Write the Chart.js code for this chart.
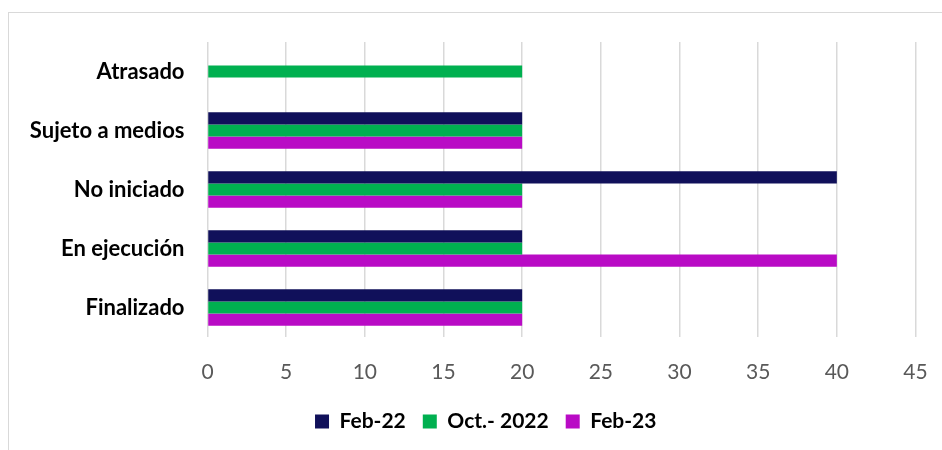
<!DOCTYPE html>
<html>
<head>
<meta charset="utf-8">
<script src="https://cdn.jsdelivr.net/npm/chart.js@4/dist/chart.umd.min.js"></script>
<style>
  body { margin: 0; background: #fff; }
  #wrap { position: relative; width: 942px; height: 450px; overflow: hidden; }
  #frame { position: absolute; left: 8px; top: 12px; width: 1000px; height: 500px; border: 1px solid #d9d9d9; }
  #canvas { position: absolute; left: 0; top: 0; }
</style>
</head>
<body>
<div id="wrap">
  <div id="frame"></div>
  <canvas id="canvas" width="942" height="450"></canvas>
</div>
<script>
const categories = ['Atrasado', 'Sujeto a medios', 'No iniciado', 'En ejecución', 'Finalizado']
const feb22 = [0, 20, 40, 20, 20]
const oct22 = [20, 20, 20, 20, 20]
const feb23 = [0, 20, 20, 40, 20]
const xTicks = [0, 5, 10, 15, 20, 25, 30, 35, 40, 45]

const ctx = document.getElementById('canvas').getContext('2d')

// the legend sits a bit right of the canvas centre in the original
const shiftLegend = {
    id: 'shiftLegend',
    afterLayout: chart => {
        chart.legend.left += 28
        chart.legend.right += 28
    }
}

const chart = new Chart(ctx, {
    type: 'bar',
    data: {
        labels: categories,
        datasets: [
            { label: 'Feb-22', data: feb22, backgroundColor: '#10105a' },
            { label: 'Oct.- 2022', data: oct22, backgroundColor: '#00b050' },
            { label: 'Feb-23', data: feb23, backgroundColor: '#b90bc5' }
        ]
    },
    options: {
        indexAxis: 'y',
        responsive: false,
        animation: false,
        categoryPercentage: 0.615,
        barPercentage: 1,
        layout: { padding: { top: 42, right: 26.5, bottom: 8, left: 0 } },
        scales: {
            x: {
                min: 0,
                max: 45,
                afterBuildTicks: scale => { scale.ticks = xTicks.map(v => ({ value: v })) },
                afterFit: scale => {
                    scale.height = 57
                    scale.paddingLeft = 0
                    scale.paddingRight = 0
                },
                grid: { color: '#d9d9d9', lineWidth: 1.5, drawTicks: false },
                border: { display: false },
                ticks: { color: '#595959', padding: 23, font: { family: 'Lato', size: 21 } }
            },
            y: {
                afterFit: scale => {
                    scale.width = 207.5
                    scale.paddingTop = 0
                    scale.paddingBottom = 0
                },
                grid: { display: false, drawTicks: false },
                border: { display: false },
                ticks: { color: '#000', padding: 23, font: { family: 'Lato', size: 22, weight: 'bold' } }
            }
        },
        plugins: {
            tooltip: { enabled: false },
            legend: {
                position: 'bottom',
                labels: {
                    boxWidth: 14,
                    boxHeight: 14,
                    padding: 17,
                    color: '#000',
                    font: { family: 'Lato', size: 21, weight: 'bold' }
                }
            }
        }
    },
    plugins: [shiftLegend]
})
</script>
</body>
</html>
